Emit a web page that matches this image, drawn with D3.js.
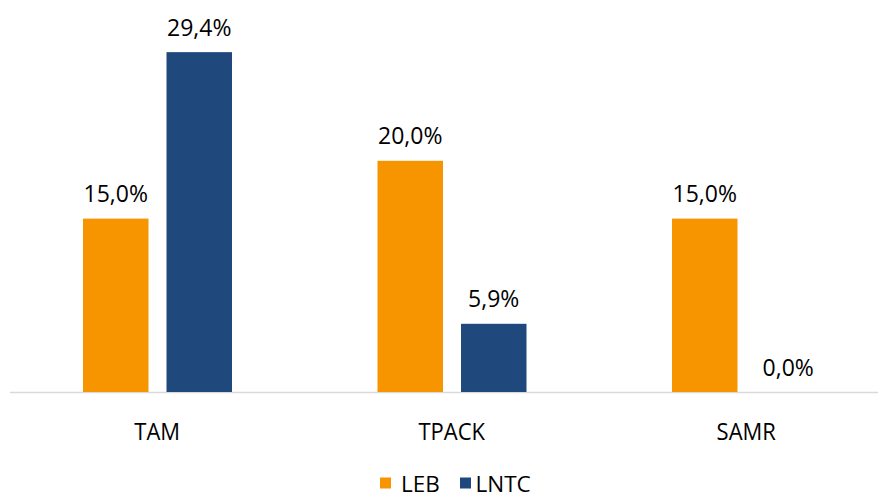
<!DOCTYPE html>
<html>
<head>
<meta charset="utf-8">
<script src="https://cdn.jsdelivr.net/npm/d3@7"></script>
<style>
  html, body { margin: 0; padding: 0; background: #fff; }
  svg text { font-family: "Open Sans", "Liberation Sans", sans-serif; fill: #000; }
</style>
</head>
<body>
<svg id="chart" width="881" height="495"></svg>
<script>
// Share of instruments referencing each model, by group
const categories = ["TAM", "TPACK", "SAMR"];
const seriesNames = ["LEB", "LNTC"];
const lebValues = [15.0, 20.0, 15.0];
const lntcValues = [29.4, 5.9, 0.0];
const seriesColors = ["#F79500", "#1F497D"];

const svg = d3.select("#chart");

const rows = categories.map((c, i) => ({
  category: c,
  values: [
    { series: seriesNames[0], value: lebValues[i] },
    { series: seriesNames[1], value: lntcValues[i] }
  ]
}));

const baseY = 392;
const y = d3.scaleLinear().domain([0, 30]).range([baseY, 45.2]);

const x0 = d3.scaleBand().domain(categories).range([10, 893.5]).padding(0);
const x1 = d3.scaleBand().domain(seriesNames).range([73, 222]).paddingInner(0.2156).paddingOuter(0);
const color = d3.scaleOrdinal().domain(seriesNames).range(seriesColors);

const fmt = v => d3.format(".1f")(v).replace(".", ",") + "%";

// Baseline axis
svg.append("line")
  .attr("x1", 10).attr("x2", 878)
  .attr("y1", baseY + 0.5).attr("y2", baseY + 0.5)
  .attr("stroke", "#d9d9d9").attr("stroke-width", 1.5);

const groups = svg.selectAll("g.group").data(rows).join("g")
  .attr("class", "group")
  .attr("transform", d => `translate(${x0(d.category)},0)`);

groups.selectAll("rect").data(d => d.values).join("rect")
  .attr("x", d => x1(d.series))
  .attr("width", x1.bandwidth())
  .attr("y", d => y(d.value))
  .attr("height", d => baseY - y(d.value))
  .attr("fill", d => color(d.series));

// Value labels above each bar
groups.selectAll("text.val").data(d => d.values).join("text")
  .attr("class", "val")
  .attr("transform", d => `translate(${x1(d.series) + x1.bandwidth() / 2},${y(d.value) - 16.5}) scale(1,1.06)`)
  .attr("text-anchor", "middle")
  .attr("font-size", 23)
  .text(d => fmt(d.value));

// Category labels
svg.selectAll("text.cat").data(categories).join("text")
  .attr("class", "cat")
  .attr("transform", d => `translate(${x0(d) + x0.bandwidth() / 2},440) scale(1,1.06)`)
  .attr("text-anchor", "middle")
  .attr("font-size", 22)
  .text(d => d);

// Legend
const legend = svg.append("g");
const legendItems = [{ name: "LEB", x: 380, tx: 401 }, { name: "LNTC", x: 460, tx: 475.5 }];
legendItems.forEach(it => {
  legend.append("rect")
    .attr("x", it.x).attr("y", 477.5)
    .attr("width", 11).attr("height", 11)
    .attr("fill", color(it.name));
  legend.append("text")
    .attr("x", it.tx).attr("y", 492.3)
    .attr("font-size", 22.5)
    .text(it.name);
});
</script>
</body>
</html>
